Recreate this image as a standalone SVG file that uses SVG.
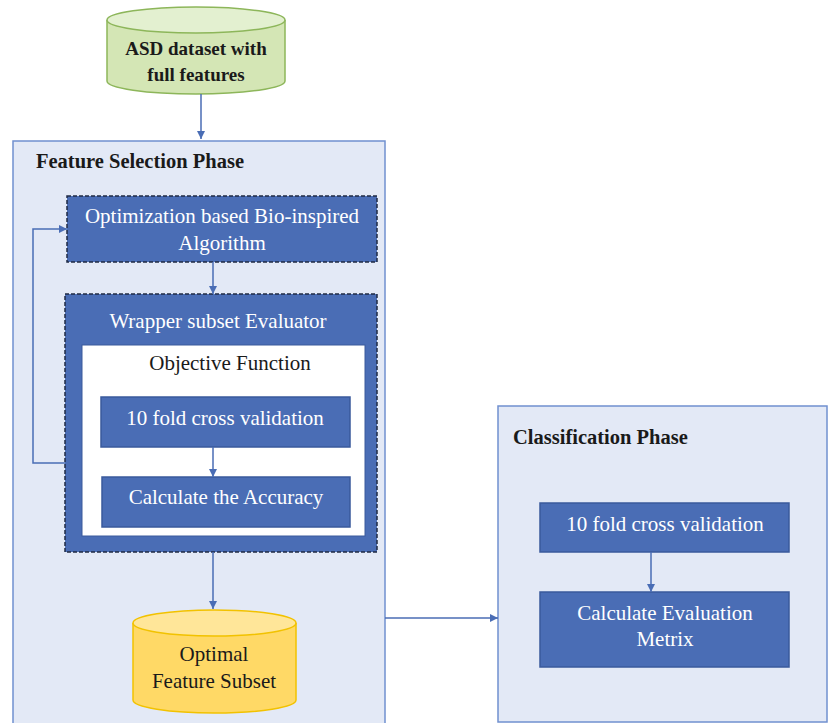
<svg xmlns="http://www.w3.org/2000/svg" width="828" height="723" viewBox="0 0 828 723">
<style>
.panel{fill:#E3E9F6;stroke:#7090CF;stroke-width:1.5}
.box{fill:#4A6DB5;stroke:#3A5A9C;stroke-width:1.5}
.dash{fill:#4A6DB5;stroke:#1F2A44;stroke-width:1.5;stroke-dasharray:4 2}
.wt{font-family:"Liberation Serif",serif;font-size:21px;fill:#FFFFFF;text-anchor:middle}
.bt{font-family:"Liberation Serif",serif;font-size:21px;fill:#1A1A1A;text-anchor:middle}
.hd{font-family:"Liberation Serif",serif;font-size:20.5px;font-weight:bold;fill:#1A1A1A}
.conn{stroke:#4A6DB5;stroke-width:1.5;fill:none;marker-end:url(#ah)}
</style>
<defs>
<marker id="ah" viewBox="0 0 10 10" refX="10" refY="5" markerWidth="8" markerHeight="8" markerUnits="userSpaceOnUse" orient="auto">
<path d="M0,0 L10,5 L0,10 z" fill="#4A6DB5"/>
</marker>
</defs>
<rect width="828" height="723" fill="#FFFFFF"/>
<g id="feature-selection-phase">
<rect class="panel" x="13" y="141" width="372" height="590"/>
<text class="hd" x="36" y="168">Feature Selection Phase</text>
</g>
<g id="classification-phase">
<rect class="panel" x="498" y="406" width="329" height="316"/>
<text class="hd" x="513" y="444">Classification Phase</text>
</g>
<g id="asd-dataset">
<path d="M107,20 L107,81 A89,13 0 0 0 285,81 L285,20" fill="#D4E6B5" stroke="#8DB65A" stroke-width="1.5"/>
<ellipse cx="196" cy="20" rx="89" ry="13" fill="#E3F0D0" stroke="#8DB65A" stroke-width="1.5"/>
<text class="bt" x="196" y="55" style="font-weight:bold;font-size:19px">ASD dataset with</text>
<text class="bt" x="196" y="81" style="font-weight:bold;font-size:19px">full features</text>
</g>
<g id="optimization-algorithm">
<rect class="dash" x="67" y="196" width="310" height="66"/>
<text class="wt" x="222" y="223">Optimization based Bio-inspired</text>
<text class="wt" x="222" y="250">Algorithm</text>
</g>
<g id="wrapper-subset-evaluator">
<rect class="dash" x="65" y="294" width="312" height="258"/>
<text class="wt" x="218" y="328">Wrapper subset Evaluator</text>
</g>
<g id="objective-function">
<rect x="82" y="345" width="283" height="191" fill="#FFFFFF" stroke="#3A5A9C" stroke-width="1"/>
<text class="bt" x="230" y="370">Objective Function</text>
</g>
<g id="cv-inner">
<rect class="box" x="101" y="397" width="249" height="50"/>
<text class="wt" x="225" y="425">10 fold cross validation</text>
</g>
<g id="accuracy">
<rect class="box" x="102" y="477" width="248" height="50"/>
<text class="wt" x="226" y="504">Calculate the Accuracy</text>
</g>
<g id="optimal-subset">
<path d="M133,623 L133,700 A81.5,13 0 0 0 296,700 L296,623" fill="#FFD966" stroke="#F2C200" stroke-width="1.5"/>
<ellipse cx="214.5" cy="623" rx="81.5" ry="13" fill="#FFE699" stroke="#F2C200" stroke-width="1.5"/>
<text class="bt" x="214" y="661">Optimal</text>
<text class="bt" x="214" y="688">Feature Subset</text>
</g>
<g id="cv-outer">
<rect class="box" x="540" y="503" width="249" height="49"/>
<text class="wt" x="665" y="531">10 fold cross validation</text>
</g>
<g id="evaluation-metrix">
<rect class="box" x="540" y="592" width="249" height="75"/>
<text class="wt" x="665" y="620">Calculate Evaluation</text>
<text class="wt" x="665" y="646">Metrix</text>
</g>
<g id="connectors">
<path class="conn" d="M201,94 L201,139"/>
<path class="conn" d="M213,262 L213,294"/>
<path class="conn" d="M65,463 L33,463 L33,229 L67,229"/>
<path class="conn" d="M213,447 L213,477"/>
<path class="conn" d="M213,552 L213,609"/>
<path class="conn" d="M385,618 L498,618"/>
<path class="conn" d="M651,552 L651,592"/>
</g>
</svg>
